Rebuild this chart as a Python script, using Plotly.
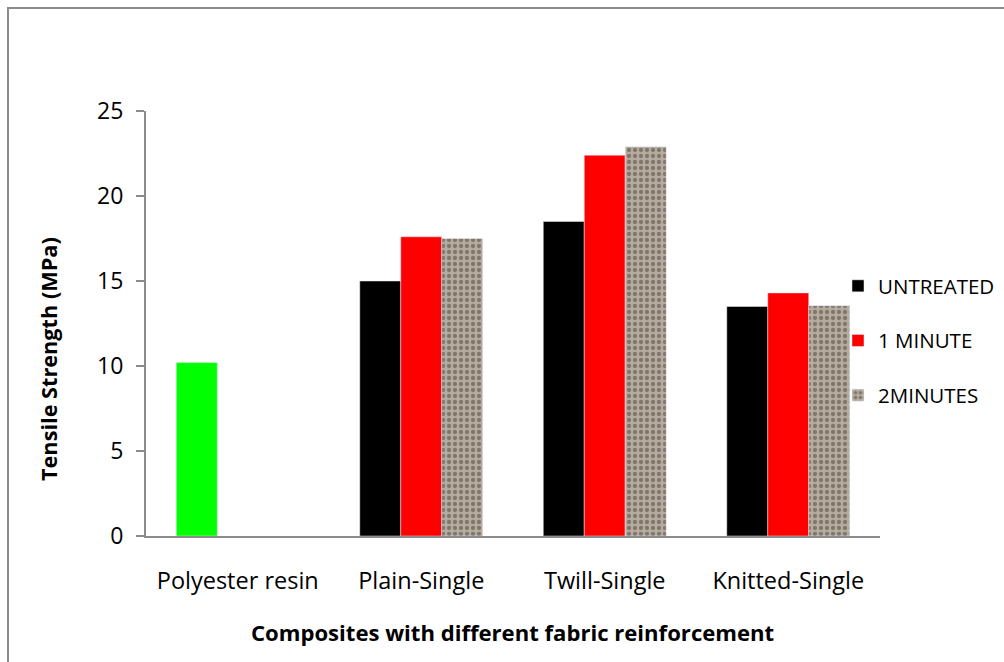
import plotly.graph_objects as go

categories = ["Polyester resin", "Plain-Single", "Twill-Single", "Knitted-Single"]
resin = [10.2, None, None, None]
untreated = [None, 15.0, 18.5, 13.5]
one_minute = [None, 17.6, 22.4, 14.3]
two_minutes = [None, 17.5, 22.9, 13.55]
series_names = ["UNTREATED", "1 MINUTE", "2MINUTES"]

W, H = 1004, 662
L, R, T, B = 146, 124, 111, 126
pw, ph = W - L - R, H - T - B

def px(x):
    return (x - L) / pw

def py(y):
    return (H - B - y) / ph

FONT = "Open Sans, sans-serif"

fig = go.Figure()
fig.add_bar(x=categories, y=resin, name="Polyester resin", marker_color="#00ff00",
            offsetgroup="u", showlegend=False)
fig.add_bar(x=categories, y=untreated, name=series_names[0], marker_color="#000000",
            offsetgroup="u", legendgroup="a")
fig.add_bar(x=categories, y=one_minute, name=series_names[1], marker_color="#ff0000",
            offsetgroup="m1", legendgroup="b")
fig.add_bar(x=categories, y=two_minutes, name=series_names[2], offsetgroup="m2", legendgroup="c",
            marker=dict(color="#b3a99c",
                        pattern=dict(shape=".", bgcolor="#b5ab9f", fgcolor="#776d63",
                                     fgopacity=0.85, size=6, solidity=0.4, fillmode="overlay")))

fig.update_layout(
    width=W, height=H,
    margin=dict(l=L, r=R, t=T, b=B, autoexpand=False),
    paper_bgcolor="white", plot_bgcolor="white",
    barmode="group", bargap=0.33, bargroupgap=0,
    font=dict(family=FONT, color="#000000", size=23),
    showlegend=True,
    legend=dict(x=px(838), y=py(266), xanchor="left", yanchor="top",
                font=dict(size=20.5, family=FONT), tracegroupgap=25,
                itemwidth=30, bgcolor="rgba(0,0,0,0)", traceorder="grouped"),
    xaxis=dict(showline=True, linecolor="#8c8c8c", linewidth=2, ticks="",
               tickfont=dict(size=23.5), showgrid=False, zeroline=False,
               ticklabelstandoff=23),
    yaxis=dict(range=[0, 25], dtick=5, showline=True, linecolor="#8c8c8c", linewidth=2,
               ticks="outside", ticklen=8, tickcolor="#8c8c8c", tickwidth=2,
               tickfont=dict(size=23), showgrid=False, zeroline=False,
               ticklabelstandoff=8),
    annotations=[
        dict(text="<b>Tensile Strength (MPa)</b>", x=px(48), y=py(359), xref="paper", yref="paper",
             textangle=-90, showarrow=False, font=dict(size=21.7, family=FONT),
             xanchor="center", yanchor="middle"),
        dict(text="<b>Composites with different fabric reinforcement</b>", x=px(512), y=py(632),
             xref="paper", yref="paper", showarrow=False, font=dict(size=22.1, family=FONT),
             xanchor="center", yanchor="middle"),
    ],
    shapes=[
        dict(type="rect", xref="paper", yref="paper", x0=px(8), x1=px(1012), y0=py(672), y1=py(8),
             line=dict(color="#8c8c8c", width=2), fillcolor="rgba(0,0,0,0)", layer="below"),
    ],
)

fig.write_html("out.html")
